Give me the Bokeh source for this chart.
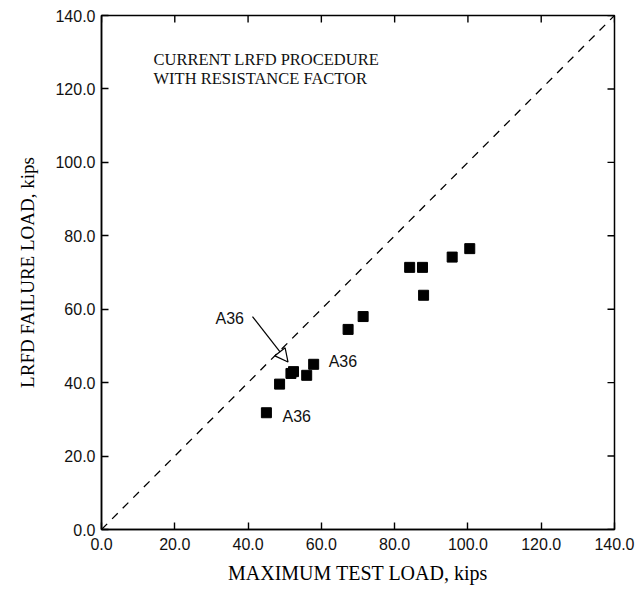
from bokeh.plotting import figure
from bokeh.models import (Range1d, FixedTicker, NumeralTickFormatter,
                          ColumnDataSource, Arrow, NormalHead, Label)
from bokeh.embed import file_html
from bokeh.resources import INLINE

# data (kips)
test_load = [45.0, 48.6, 51.7, 52.4, 56.0, 57.9, 67.3, 71.4, 84.1, 87.6, 87.9, 95.7, 100.5]
lrfd_load = [31.8, 39.6, 42.5, 43.0, 42.0, 45.0, 54.5, 58.0, 71.4, 71.4, 63.8, 74.2, 76.5]
ticks = [0, 20, 40, 60, 80, 100, 120, 140]
diag = [0, 140]

SERIF = "Liberation Serif"
SANS = "Liberation Sans"

W, H = 636, 590
BL, BR, BT, BB = 101, 22, 15, 61
p = figure(width=W, height=H, output_backend="svg", toolbar_location=None,
           x_range=Range1d(0, 140), y_range=Range1d(0, 140),
           min_border_left=BL, min_border_right=BR, min_border_top=BT, min_border_bottom=BB)
p.grid.visible = False
p.outline_line_color = "black"
p.outline_line_width = 1.5
p.background_fill_color = "white"
p.border_fill_color = "white"

TICK_PX = 7
for ax in (p.xaxis[0], p.yaxis[0]):
    ax.ticker = FixedTicker(ticks=ticks)
    ax.formatter = NumeralTickFormatter(format="0.0")
    ax.major_tick_in = TICK_PX
    ax.major_tick_out = 0
    ax.minor_tick_in = 0
    ax.minor_tick_out = 0
    ax.axis_line_width = 1.5
    ax.major_tick_line_width = 1.4
    ax.major_label_text_font = SANS
    ax.major_label_text_font_size = "16px"
    ax.major_label_text_color = "#111111"
    ax.axis_label_text_font = SERIF
    ax.axis_label_text_font_style = "normal"
    ax.axis_label_text_color = "black"

p.xaxis.axis_label = "MAXIMUM TEST LOAD, kips"
p.yaxis.axis_label = "LRFD FAILURE LOAD, kips"
p.xaxis.axis_label_text_font_size = "20px"
p.yaxis.axis_label_text_font_size = "19px"
p.xaxis.major_label_standoff = 8
p.yaxis.major_label_standoff = 6
p.xaxis.axis_label_standoff = 9
p.yaxis.axis_label_standoff = 14

# inward ticks on the top and right edges (tick length converted from pixels)
x_end, y_end = p.x_range.end, p.y_range.end
dx = TICK_PX * (p.x_range.end - p.x_range.start) / (W - BL - BR)
dy = TICK_PX * (p.y_range.end - p.y_range.start) / (H - BT - BB)
n = len(ticks)
p.segment(x0=ticks, y0=[y_end] * n, x1=ticks, y1=[y_end - dy] * n,
          line_color="black", line_width=1.4)
p.segment(x0=[x_end] * n, y0=ticks, x1=[x_end - dx] * n, y1=ticks,
          line_color="black", line_width=1.4)

# 1:1 line
p.line(diag, diag, line_color="black", line_dash="8 7", line_width=1.3)

src = ColumnDataSource(dict(x=test_load, y=lrfd_load))
p.scatter("x", "y", source=src, marker="square", size=10, fill_color="black", line_color="black")

# annotations
p.add_layout(Label(x=14.2, y=128.0, text="CURRENT LRFD PROCEDURE", text_font=SERIF,
                   text_font_size="16.5px", text_baseline="middle", text_color="#111111"))
p.add_layout(Label(x=14.2, y=122.9, text="WITH RESISTANCE FACTOR", text_font=SERIF,
                   text_font_size="16.5px", text_baseline="middle", text_color="#111111"))

for lx, ly in [(31.1, 57.5), (62.0, 45.8), (49.4, 30.8)]:
    p.add_layout(Label(x=lx, y=ly, text="A36", text_font=SANS, text_font_size="16px",
                       text_baseline="middle", text_color="#111111"))

p.add_layout(Arrow(x_start=41.2, y_start=58.0, x_end=50.9, y_end=45.6,
                   line_color="black", line_width=1.2,
                   end=NormalHead(size=13, fill_color="white", line_color="black", line_width=1.2)))

open("out.html", "w").write(file_html(p, INLINE))
